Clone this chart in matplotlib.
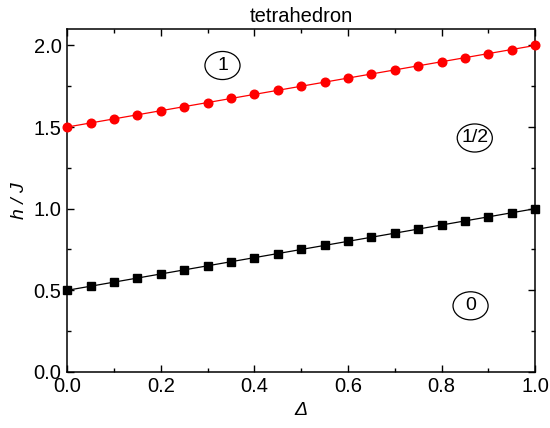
import matplotlib
matplotlib.use('Agg')
import matplotlib.pyplot as plt
from matplotlib.ticker import MultipleLocator, FormatStrFormatter
from matplotlib.patches import Ellipse

plt.rcParams.update({'font.family': ['Liberation Sans', 'DejaVu Sans'], 'font.size': 14})

delta = [0.00, 0.05, 0.10, 0.15, 0.20, 0.25, 0.30, 0.35, 0.40, 0.45, 0.50,
         0.55, 0.60, 0.65, 0.70, 0.75, 0.80, 0.85, 0.90, 0.95, 1.00]
h_upper = [1.500, 1.525, 1.550, 1.575, 1.600, 1.625, 1.650, 1.675, 1.700, 1.725, 1.750,
           1.775, 1.800, 1.825, 1.850, 1.875, 1.900, 1.925, 1.950, 1.975, 2.000]
h_lower = [0.500, 0.525, 0.550, 0.575, 0.600, 0.625, 0.650, 0.675, 0.700, 0.725, 0.750,
           0.775, 0.800, 0.825, 0.850, 0.875, 0.900, 0.925, 0.950, 0.975, 1.000]
region_labels = ['1', '1/2', '0']
region_pos = [(0.332, 1.877), (0.871, 1.433), (0.862, 0.405)]

fig = plt.figure(figsize=(5.5, 4.28), dpi=100)
ax = fig.add_axes([0.122, 0.131, 0.851, 0.801])

ax.plot(delta, h_upper, color='red', lw=0.9, marker='o', ms=6.2, clip_on=False, zorder=3)
ax.plot(delta, h_lower, color='black', lw=0.9, marker='s', ms=5.2, clip_on=False, zorder=3)

for lab, (x, y) in zip(region_labels, region_pos):
    ax.add_patch(Ellipse((x, y), 0.075, 0.172, fc='white', ec='black', lw=0.9, zorder=4))
    ax.text(x, y, lab, ha='center', va='center', fontsize=14, zorder=5)

ax.set_xlim(0, 1.0)
ax.set_ylim(0, 2.1)
ax.xaxis.set_major_locator(MultipleLocator(0.2))
ax.xaxis.set_minor_locator(MultipleLocator(0.1))
ax.yaxis.set_major_locator(MultipleLocator(0.5))
ax.yaxis.set_minor_locator(MultipleLocator(0.25))
ax.xaxis.set_major_formatter(FormatStrFormatter('%.1f'))
ax.yaxis.set_major_formatter(FormatStrFormatter('%.1f'))
ax.tick_params(which='both', direction='in', top=True, right=True, width=1.0)
ax.tick_params(which='major', length=5, labelsize=14.5, pad=4)
ax.tick_params(which='minor', length=3)
for s in ax.spines.values():
    s.set_linewidth(1.1)

ax.set_xlabel('Δ', fontstyle='italic', fontsize=14, labelpad=4)
ax.set_ylabel('h / J', fontstyle='italic', fontsize=14, labelpad=4)
ax.set_title('tetrahedron', fontsize=14.5, pad=5)

fig.savefig('out.png', dpi=100)
